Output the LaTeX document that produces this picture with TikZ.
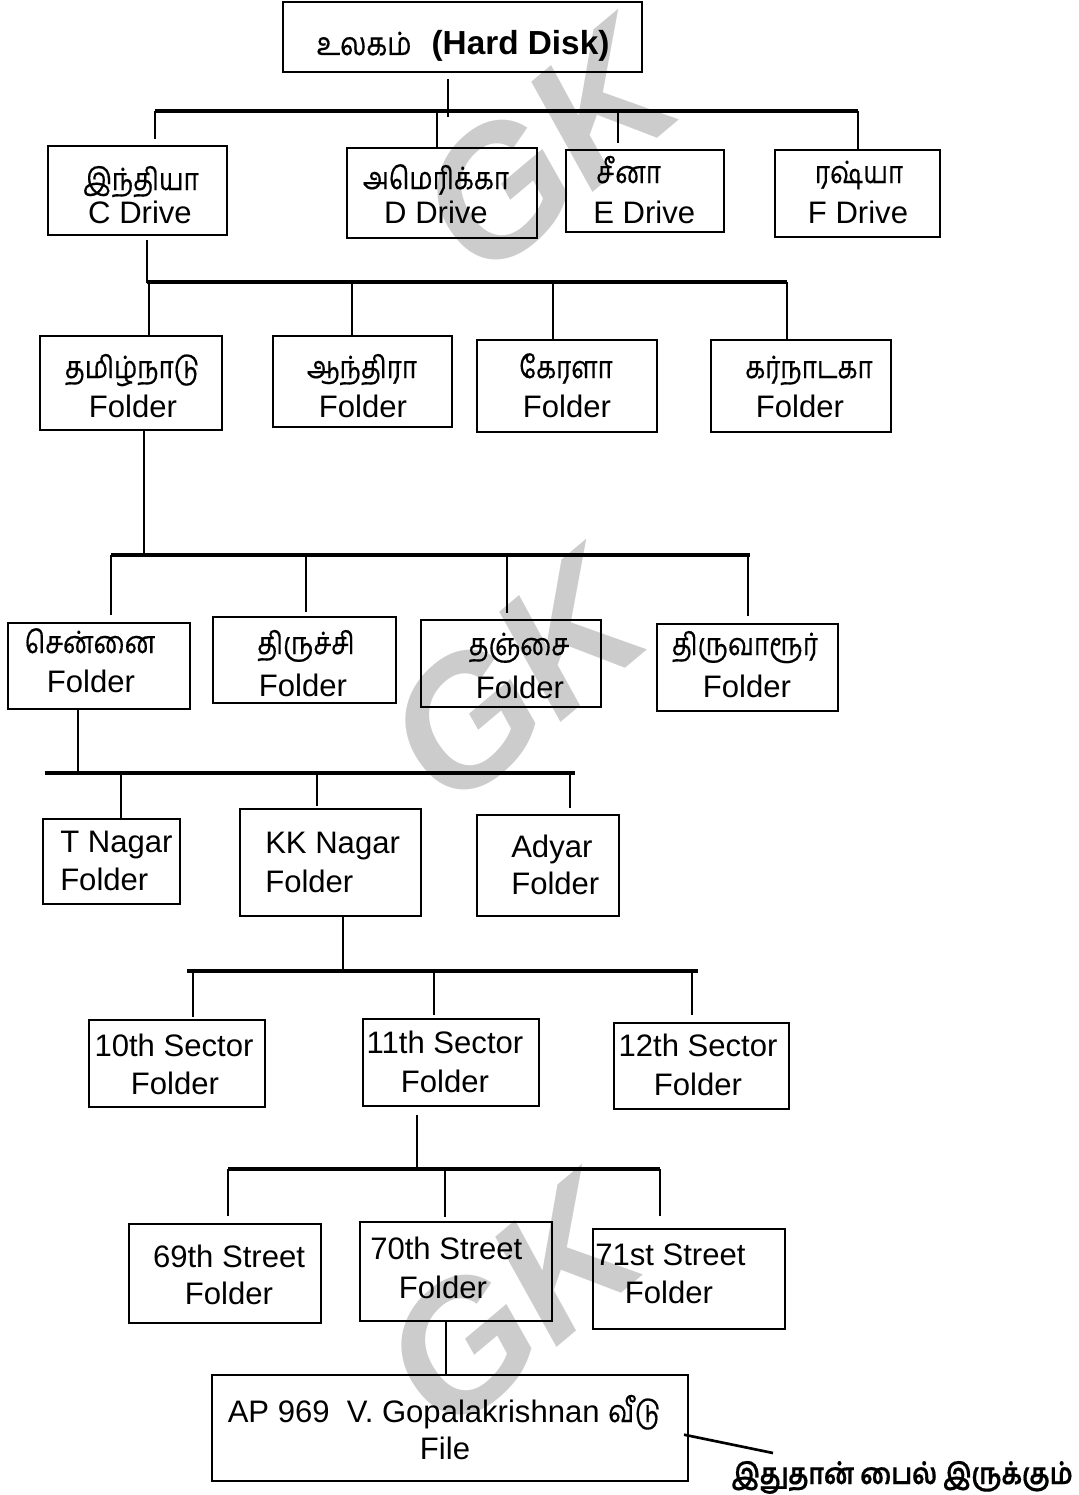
\documentclass[tikz,border=0pt]{standalone}
\usepackage{fontspec}
\setmainfont{Liberation Sans}
\newfontfamily\ta[Script=Tamil, FakeStretch=0.85, FakeBold=0.5]{Hind Madurai}
\usetikzlibrary{fit}
\begin{document}
\begin{tikzpicture}[x=0.75pt,y=-0.75pt,
  box/.style={draw, line width=2pt, inner sep=0pt},
  conn/.style={line width=2pt},
  bar/.style={line width=2.6pt},
  tx/.style={inner sep=0pt, font=\fontsize{23.3}{28}\selectfont},
  tt/.style={inner sep=0pt, font=\fontsize{23}{28}\selectfont\ta},
  wm/.style={inner sep=0pt, text={rgb,255:red,204;green,204;blue,204}, rotate=40,
    font=\fontsize{135}{135}\selectfont\bfseries\itshape}]
\useasboundingbox (0,0) rectangle (1078,1495);
% watermarks
\node[wm] (wm1) at (547,150) {GK};
\node[wm] (wm2) at (515,680) {GK};
\node[wm] (wm3) at (511,1305) {GK};
% boxes
\node[box, fit={(283,2) (642,72)}] (top) {};
\node[box, fit={(48,146) (227,235)}] (C) {};
\node[box, fit={(347,148) (537,238)}] (D) {};
\node[box, fit={(566,150) (724,232)}] (E) {};
\node[box, fit={(775,150) (940,237)}] (F) {};
\node[box, fit={(40,336) (222,430)}] (TN) {};
\node[box, fit={(273,336) (452,427)}] (AP) {};
\node[box, fit={(477,340) (657,432)}] (KE) {};
\node[box, fit={(711,340) (891,432)}] (KA) {};
\node[box, fit={(8,623) (190,709)}] (CH) {};
\node[box, fit={(213,617) (396,703)}] (TR) {};
\node[box, fit={(421,620) (601,707)}] (TH) {};
\node[box, fit={(657,624) (838,711)}] (TV) {};
\node[box, fit={(43,819) (180,904)}] (TNg) {};
\node[box, fit={(240,809) (421,916)}] (KK) {};
\node[box, fit={(477,815) (619,916)}] (AD) {};
\node[box, fit={(89,1020) (265,1107)}] (S10) {};
\node[box, fit={(363,1019) (539,1106)}] (S11) {};
\node[box, fit={(614,1023) (789,1109)}] (S12) {};
\node[box, fit={(129,1224) (321,1323)}] (S69) {};
\node[box, fit={(360,1222) (552,1321)}] (S70) {};
\node[box, fit={(593,1229) (785,1329)}] (S71) {};
\node[box, fit={(212,1375) (688,1481)}] (FI) {};
% texts
\node[tx, anchor=base] (top1) at (463,55) {{\ta\fontsize{24}{28}\selectfont உலகம்}\hspace{15pt}{\fontsize{25}{28}\selectfont\bfseries (Hard Disk)}};
\node[tt, anchor=base] (C1) at (141,190) {இந்தியா};
\node[tx, anchor=base] (C2) at (140,223) {C Drive};
\node[tt, anchor=base] (D1) at (436,189) {அமெரிக்கா};
\node[tx, anchor=base] (D2) at (436,223) {D Drive};
\node[tt, anchor=base west] (E1) at (596,183) {சீனா};
\node[tx, anchor=base west] (E2) at (593,223) {E Drive};
\node[tt, anchor=base] (F1) at (859,183) {ரஷ்யா};
\node[tx, anchor=base] (F2) at (858,223) {F Drive};
\node[tt, anchor=base] (TN1) at (132,378) {தமிழ்நாடு};
\node[tx, anchor=base] (TN2) at (133,417) {Folder};
\node[tt, anchor=base] (AP1) at (362,378) {ஆந்திரா};
\node[tx, anchor=base] (AP2) at (363,417) {Folder};
\node[tt, anchor=base] (KE1) at (566,378) {கேரளா};
\node[tx, anchor=base] (KE2) at (567,417) {Folder};
\node[tt, anchor=base] (KA1) at (809,378) {கர்நாடகா};
\node[tx, anchor=base] (KA2) at (800,417) {Folder};
\node[tt, anchor=base] (CH1) at (90,653) {சென்னை};
\node[tx, anchor=base] (CH2) at (91,692) {Folder};
\node[tt, anchor=base] (TR1) at (306,654) {திருச்சி};
\node[tx, anchor=base] (TR2) at (303,696) {Folder};
\node[tt, anchor=base] (TH1) at (519,655) {தஞ்சை};
\node[tx, anchor=base] (TH2) at (520,698) {Folder};
\node[tt, anchor=base] (TV1) at (745,655) {திருவாரூர்};
\node[tx, anchor=base] (TV2) at (747,697) {Folder};
\node[tx, anchor=base west] (TNg1) at (60,852) {T Nagar};
\node[tx, anchor=base west] (TNg2) at (60,890) {Folder};
\node[tx, anchor=base west] (KK1) at (265,853) {KK Nagar};
\node[tx, anchor=base west] (KK2) at (265,892) {Folder};
\node[tx, anchor=base west] (AD1) at (511,857) {Adyar};
\node[tx, anchor=base west] (AD2) at (511,894) {Folder};
\node[tx, anchor=base] (S101) at (174,1056) {10th Sector};
\node[tx, anchor=base] (S102) at (175,1094) {Folder};
\node[tx, anchor=base] (S111) at (445,1053) {11th Sector};
\node[tx, anchor=base] (S112) at (445,1092) {Folder};
\node[tx, anchor=base] (S121) at (698,1056) {12th Sector};
\node[tx, anchor=base] (S122) at (698,1095) {Folder};
\node[tx, anchor=base] (S691) at (229,1267) {69th Street};
\node[tx, anchor=base] (S692) at (229,1304) {Folder};
\node[tx, anchor=base west] (S701) at (370,1259) {70th Street};
\node[tx, anchor=base] (S702) at (443,1298) {Folder};
\node[tx, anchor=base west] (S711) at (595,1265) {71st Street};
\node[tx, anchor=base] (S712) at (669,1303) {Folder};
\node[tx, anchor=base] (FI1) at (444,1422) {AP 969\ \ V. Gopalakrishnan {\ta\fontsize{23}{28}\selectfont வீடு}};
\node[tx, anchor=base] (FI2) at (445,1459) {File};
\node[tt, anchor=base east, font=\fontsize{22}{26}\selectfont\ta\bfseries] (lab) at (1073,1484) {இதுதான் பைல் இருக்கும்};
% level 0 -> 1
\coordinate (j0) at (448,117);
\draw[conn, shorten <=4.5pt] (top.south -| j0) -- (j0);
\coordinate (b0l) at (155,111); \coordinate (b0r) at (858,111);
\draw[bar] (b0l) -- (b0r);
\coordinate (d0b) at (437,111); \coordinate (d0c) at (618,113);
\draw[conn, shorten >=4.5pt] (b0l) -- (b0l |- C.north);
\draw[conn] (d0b) -- (d0b |- D.north);
\draw[conn, shorten >=4.5pt] (d0c) -- (d0c |- E.north);
\draw[conn] (b0r) -- (b0r |- F.north);
% level 1 -> 2
\coordinate (j1) at (147,283);
\draw[conn, shorten <=3pt] (C.south -| j1) -- (j1);
\coordinate (b1l) at (147,282); \coordinate (b1r) at (787,282);
\draw[bar] (b1l) -- (b1r);
\coordinate (d1a) at (149,282); \coordinate (d1b) at (352,282); \coordinate (d1c) at (553,282);
\draw[conn] (d1a) -- (d1a |- TN.north);
\draw[conn] (d1b) -- (d1b |- AP.north);
\draw[conn] (d1c) -- (d1c |- KE.north);
\draw[conn] (b1r) -- (b1r |- KA.north);
% level 2 -> 3
\coordinate (j2) at (144,555);
\draw[conn] (TN.south -| j2) -- (j2);
\coordinate (b2l) at (111,555); \coordinate (b2r) at (750,555);
\draw[bar] (b2l) -- (b2r);
\coordinate (d2b) at (306,555); \coordinate (d2c) at (507,555); \coordinate (d2d) at (748,555);
\draw[conn, shorten >=5pt] (b2l) -- (b2l |- CH.north);
\draw[conn, shorten >=2.5pt] (d2b) -- (d2b |- TR.north);
\draw[conn, shorten >=4pt] (d2c) -- (d2c |- TH.north);
\draw[conn, shorten >=5pt] (d2d) -- (d2d |- TV.north);
% level 3 -> 4
\coordinate (j3) at (78,771);
\draw[conn] (CH.south -| j3) -- (j3);
\coordinate (b3l) at (45,773); \coordinate (b3r) at (575,773);
\draw[bar] (b3l) -- (b3r);
\coordinate (d3a) at (121,773); \coordinate (d3b) at (317,773); \coordinate (d3c) at (570,773);
\draw[conn] (d3a) -- (d3a |- TNg.north);
\draw[conn, shorten >=1.5pt] (d3b) -- (d3b |- KK.north);
\draw[conn, shorten >=4pt] (d3c) -- (d3c |- AD.north);
% level 4 -> 5
\coordinate (j4) at (343,969);
\draw[conn] (KK.south -| j4) -- (j4);
\coordinate (b4l) at (187,971); \coordinate (b4r) at (698,971);
\draw[bar] (b4l) -- (b4r);
\coordinate (d4a) at (193,971); \coordinate (d4b) at (434,971); \coordinate (d4c) at (692,971);
\draw[conn, shorten >=1.5pt] (d4a) -- (d4a |- S10.north);
\draw[conn, shorten >=2.2pt] (d4b) -- (d4b |- S11.north);
\draw[conn, shorten >=5pt] (d4c) -- (d4c |- S12.north);
% level 5 -> 6
\coordinate (j5) at (417,1169);
\draw[conn, shorten <=6pt] (S11.south -| j5) -- (j5);
\coordinate (b5l) at (228,1169); \coordinate (b5r) at (660,1169);
\draw[bar] (b5l) -- (b5r);
\coordinate (d5b) at (445,1167);
\draw[conn, shorten >=5pt] (b5l) -- (b5l |- S69.north);
\draw[conn, shorten >=3pt] (d5b) -- (d5b |- S70.north);
\draw[conn, shorten >=9pt] (b5r) -- (b5r |- S71.north);
% level 6 -> file
\coordinate (j6) at (446,1321);
\draw[conn] (S70.south -| j6) -- (FI.north -| j6);
% callout
\coordinate (ce) at (773,1453);
\draw[conn] ([yshift=-5pt]FI.east) ++(-4pt,0) -- (ce);
\end{tikzpicture}
\end{document}
